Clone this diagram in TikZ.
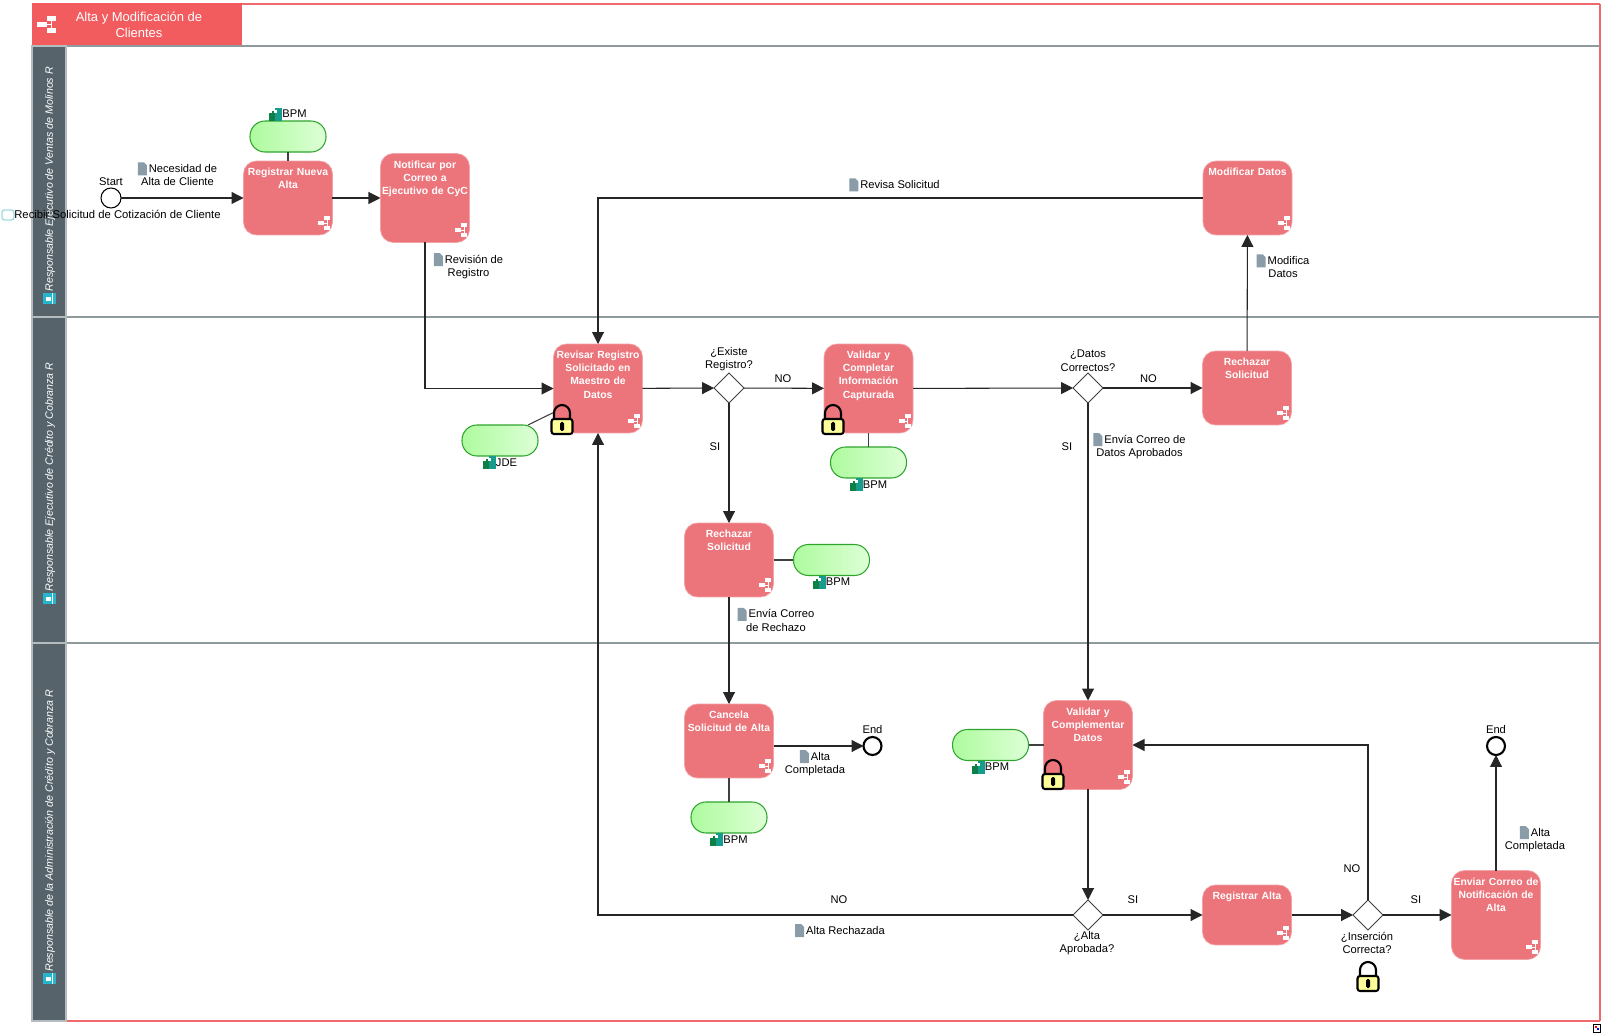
\documentclass[tikz,border=0pt]{standalone}
\usepackage{fontspec}
\setmainfont{Liberation Sans}
\setsansfont{Liberation Sans}
\usetikzlibrary{shapes.geometric,arrows.meta,positioning}

\definecolor{framered}{HTML}{EE6A6E}
\definecolor{headred}{HTML}{F25C5F}
\definecolor{taskred}{HTML}{EC747B}
\definecolor{taskedge}{HTML}{F3A2A6}
\definecolor{lanebar}{HTML}{56636B}
\definecolor{laneedge}{HTML}{B4BCC0}
\definecolor{lanerule}{HTML}{8F9A9D}
\definecolor{docgray}{HTML}{8A9CA8}
\definecolor{pillgreen}{HTML}{2FA52F}
\definecolor{pillfrom}{HTML}{AEFB9E}
\definecolor{pillto}{HTML}{DDFFD6}
\definecolor{lockyellow}{HTML}{FFFF99}
\definecolor{sysgreen}{HTML}{0F8045}
\definecolor{systeal}{HTML}{159C8C}
\definecolor{laneteal}{HTML}{25B5CC}
\definecolor{checkcyan}{HTML}{A4DCE2}

\newcommand{\docmark}{\tikz[x=0.02cm,y=-0.02cm,baseline=-0.2cm]
  \fill[docgray] (0,0) -- (6,0) -- (9,3) -- (9,13) -- (0,13) -- cycle;\hspace{0.04cm}}
\newcommand{\sysmark}{\tikz[x=0.02cm,y=-0.02cm,baseline=-0.2cm]{
  \fill[sysgreen] (0,5) rectangle (7,13);
  \fill[sysgreen] (3,3) rectangle (7,5);
  \fill[systeal] (6,0) rectangle (13,13);
  \fill[white] (5,2) rectangle (8,5);}}
\newcommand{\lanemark}{\tikz[x=0.02cm,y=-0.02cm,baseline=-0.2cm]{
  \fill[laneteal] (0,0) rectangle (11,13);
  \fill[white] (3,3) rectangle (7,8);
  \fill[white] (0,9) rectangle (11,10);}\hspace{0.02cm}}

\tikzset{
  pics/subproc/.style={code={
    \fill[white] (-8.5,-19) rectangle (-2.5,-15);
    \fill[white] (-14.5,-14) rectangle (-8.5,-10);
    \fill[white] (-8.5,-9) rectangle (-2.5,-5);
    \draw[white, line width=0.4pt] (-5.5,-15) -- (-5.5,-9) (-8.5,-12) -- (-5.5,-12);
  }},
  pics/padlock/.style={code={
    \draw[black, line width=1.2pt, rounded corners=0.16cm] (-8,1) -- (-8,-14) -- (8,-14) -- (8,1);
    \draw[black, fill=lockyellow, line width=1.2pt, rounded corners=0.05cm] (-10.5,0) rectangle (10.5,15);
    \fill[black, rounded corners=0.03cm] (-2,3) rectangle (2,12);
  }},
}

\begin{document}
\begin{tikzpicture}[
  x=0.02cm, y=-0.02cm,
  txt/.style={inner sep=0pt, align=center, text=black, font=\fontsize{6.35}{7.55}\selectfont},
  task/.style={draw=taskedge, fill=taskred, rounded corners=0.26cm, text=white, align=center,
               text width=1.78cm, inner xsep=0pt, inner ysep=0.15cm, outer sep=0pt,
               text height=0.14cm, text depth=#1,
               font=\fontsize{5.9}{7.5}\selectfont\bfseries},
  task/.default=1.04cm,
  gate/.style={draw=black!75, diamond, fill=white, minimum width=0.6cm, minimum height=0.6cm,
               inner sep=0pt, outer sep=0pt, line width=0.5pt},
  startev/.style={draw=black, circle, fill=white, minimum size=0.4cm, inner sep=0pt, outer sep=0pt, line width=0.6pt},
  endev/.style={draw=black, circle, fill=white, minimum size=0.36cm, inner sep=0pt, outer sep=0pt, line width=1.2pt},
  pill/.style={draw=pillgreen, rounded corners=0.3cm, minimum width=1.52cm, minimum height=0.62cm,
               inner sep=0pt, outer sep=0pt, left color=pillfrom, right color=pillto, line width=0.6pt},
  flow/.style={-{Triangle[length=0.24cm,width=0.24cm]}, line width=0.6pt, black!85},
  assoc/.style={line width=0.6pt, black!75},
  lanetitle/.style={rotate=90, anchor=west, inner sep=0pt, text=white,
                    font=\fontsize{6.08}{7.4}\selectfont\itshape},
]
\useasboundingbox (0,0) rectangle (1602,1033);

%% ---------- frame and lanes ----------
\fill[white] (32,3) rectangle (1600,1021);
\fill[headred] (32,3) rectangle (242,46);
\draw[framered, line width=1.5pt] (242,4) -- (1600,4);
\draw[framered, line width=1.1pt] (1600,4) -- (1600,1021);
\draw[framered, line width=0.9pt] (66,1021) -- (1600,1021);
\foreach \y in {46,317,643}
  \draw[lanerule, line width=0.8pt] (66,\y) -- (1600,\y);
\foreach \a/\b in {46/317,317/643,643/1021}
  \draw[laneedge, fill=lanebar, line width=0.6pt] (32,\a) rectangle (66,\b);

\pic[xscale=1.6,yscale=1.25] at (60.3,39.75) {subproc};
\node[inner sep=0pt, align=center, text=white, font=\fontsize{7.4}{9.1}\selectfont] (proctitle) at (139,24.5)
  {Alta y Modificación de\\Clientes};

\node[lanetitle] (laneventas) at (49.5,304) {\lanemark Responsable Ejecutivo de Ventas de Molinos R};
\node[lanetitle] (lanecredito) at (49.5,604) {\lanemark Responsable Ejecutivo de Crédito y Cobranza R};
\node[lanetitle] (laneadmin) at (49.5,984) {\lanemark Responsable de la Administración de Crédito y Cobranza R};

%% ---------- first lane ----------
\node[startev] (inicio) at (111,198) {};
\node[txt, above=0.05cm of inicio] (iniciotxt) {Start};
\node[task] (regalta) at (288,198) {Registrar Nueva\\Alta};
\node[task=1.34cm, right=0.96cm of regalta] (notifica) {Notificar por\\Correo a\\Ejecutivo de CyC};
\node[task] (modifica) at (1247.5,198) {Modificar Datos};

\node[pill, above=0.18cm of regalta] (sysreg) {};
\node[txt, above=0cm of sysreg] (sysregtxt) {\sysmark BPM};
\draw[assoc] (regalta.north) -- (sysreg.south);

\draw[draw=checkcyan, fill=white, line width=0.8pt, rounded corners=0.05cm] (2,210) rectangle (14,220);
\node[txt, anchor=west, font=\fontsize{6.42}{7.55}\selectfont] (recibe) at (14,214.5) {Recibir Solicitud de Cotización de Cliente};
\node[txt] (necesidad) at (177.5,174) {\docmark Necesidad de\\Alta de Cliente};
\node[txt] (revision) at (468.5,266) {\docmark Revisión de\\Registro};
\node[txt] (revisa) at (894.5,185) {\docmark Revisa Solicitud};
\node[txt] (modtxt) at (1283,266) {\docmark Modifica\\Datos};

%% ---------- second lane ----------
\node[task=1.34cm] (revreg) at (598,388.5) {Revisar Registro\\Solicitado en\\Maestro de\\Datos};
\node[gate] (existe) at (729,388) {};
\node[task=1.34cm] (valcomp) at (868.5,388.5) {Validar y\\Completar\\Información\\Capturada};
\node[gate] (datosok) at (1088,388) {};
\node[task] (rechdos) at (1247,388) {Rechazar\\Solicitud};
\node[task] (rechuno) at (729,560) {Rechazar\\Solicitud};

\node[txt, above=0.03cm of existe] (existetxt) {¿Existe\\Registro?};
\node[txt, above=0.03cm of datosok] (datostxt) {¿Datos\\Correctos?};
\node[txt] (nouno) at (783,379) {NO};
\node[txt] (siuno) at (715,447) {SI};
\node[txt] (nodos) at (1148.5,379) {NO};
\node[txt] (sidos) at (1067,447) {SI};
\node[txt] (aprobados) at (1139.5,446) {\docmark Envía Correo de\\Datos Aprobados};
\node[txt] (correorech) at (776,619.5) {\docmark Envía Correo\\de Rechazo};

\node[pill] (sysrev) at (500,440.5) {};
\node[txt, below=0cm of sysrev] (sysrevtxt) {\sysmark JDE};
\draw[assoc] (sysrev.north east)+(-10,0) -- (revreg.west |- 0,412.5);
\node[pill, below=0.28cm of valcomp] (sysval) {};
\node[txt, below=0cm of sysval] (sysvaltxt) {\sysmark BPM};
\draw[assoc] (valcomp.south) -- (sysval.north);
\node[pill, right=0.4cm of rechuno] (sysrech) {};
\node[txt, below=0cm of sysrech] (sysrechtxt) {\sysmark BPM};
\draw[assoc] (rechuno.east) -- (sysrech.west);

%% ---------- third lane ----------
\node[task] (cancela) at (729,741) {Cancela\\Solicitud de Alta};
\node[endev] (finuno) at (872.5,746) {};
\node[task=1.34cm] (valdatos) at (1088,745) {Validar y\\Complementar\\Datos};
\node[gate] (aprobada) at (1088,915) {};
\node[task=0.76cm] (regfin) at (1247,915) {Registrar Alta};
\node[gate] (insercion) at (1368,915) {};
\node[task=1.34cm] (envcorreo) at (1496,915) {Enviar Correo de\\Notificación de\\Alta};
\node[endev] (findos) at (1496,746) {};

\node[txt, above=0.06cm of finuno] (finunotxt) {End};
\node[txt, above=0.06cm of findos] (findostxt) {End};
\node[txt] (altauno) at (815,763) {\docmark Alta\\Completada};
\node[txt] (altados) at (1535,839) {\docmark Alta\\Completada};
\node[txt] (rechazada) at (840,930.5) {\docmark Alta Rechazada};
\node[txt] (notres) at (839,900) {NO};
\node[txt] (sitres) at (1133,900) {SI};
\node[txt] (sicuatro) at (1416,900) {SI};
\node[txt] (nocuatro) at (1352,869) {NO};
\node[txt] (aprobtxt) at (1087,943) {¿Alta\\Aprobada?};
\node[txt] (insertxt) at (1367,943) {¿Inserción\\Correcta?};

\node[pill, below=0.48cm of cancela] (syscan) {};
\node[txt, below=0cm of syscan] (syscantxt) {\sysmark BPM};
\draw[assoc] (cancela.south) -- (syscan.north);
\node[pill, left=0.3cm of valdatos] (sysdat) {};
\node[txt, below=0cm of sysdat] (sysdattxt) {\sysmark BPM};
\draw[assoc] (valdatos.west) -- (sysdat.east);

%% ---------- sequence flows ----------
\draw[flow] (inicio) -- (regalta);
\draw[flow] (regalta) -- (notifica);
\draw[flow] (notifica.south) |- (revreg.west);
\draw[flow] (modifica.west) -| (revreg.north);
\draw[flow] (revreg) -- (existe);
\draw[flow] (existe) -- (valcomp);
\draw[flow] (valcomp) -- (datosok);
\draw[flow] (datosok) -- (rechdos);
\draw[flow] (rechdos) -- (modifica);
\draw[flow] (existe) -- (rechuno);
\draw[flow] (rechuno) -- (cancela);
\draw[flow] (cancela.east |- finuno) -- (finuno);
\draw[flow] (datosok) -- (valdatos);
\draw[flow] (valdatos) -- (aprobada);
\draw[flow] (aprobada) -- (regfin);
\draw[flow] (regfin) -- (insercion);
\draw[flow] (insercion) -- (envcorreo);
\draw[flow] (envcorreo) -- (findos);
\draw[flow] (insercion.north) |- (valdatos.east);
\draw[flow] (aprobada.west) -| (revreg.south);

%% ---------- small marks on the tasks ----------
\foreach \t in {regalta,notifica,modifica,revreg,valcomp,rechdos,rechuno,cancela,valdatos,regfin,envcorreo}
  \pic at (\t.south east) {subproc};
\pic at (562,419) {padlock};
\pic at (833,419) {padlock};
\pic at (1053,774) {padlock};
\pic at (1368,976) {padlock};

% resize handle in the corner
\draw[black, fill=white, line width=0.5pt] (1593,1024) rectangle (1600.5,1032);
\fill[red] (1595,1026) rectangle (1597,1028);
\fill[blue] (1597,1028) rectangle (1599,1030);

\end{tikzpicture}
\end{document}
